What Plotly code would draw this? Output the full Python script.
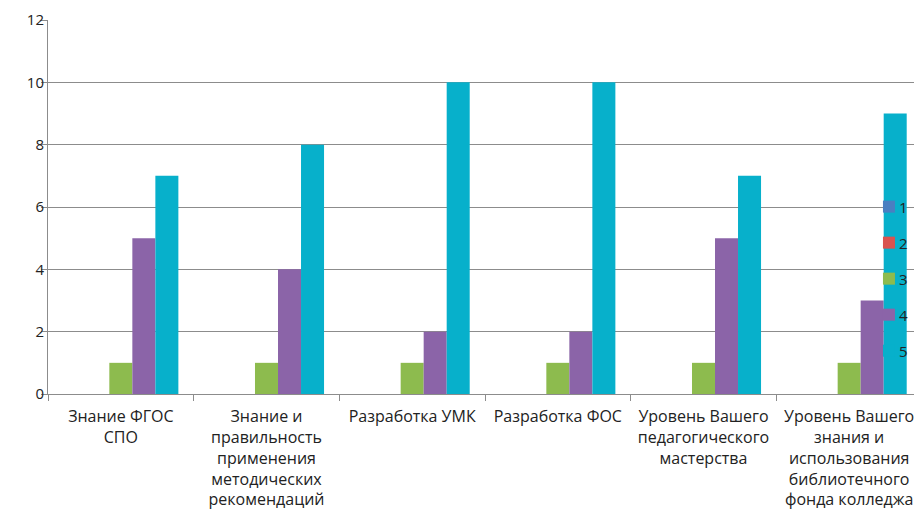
import plotly.graph_objects as go

categories = [
    "Знание ФГОС<br>СПО",
    "Знание и<br>правильность<br>применения<br>методических<br>рекомендаций",
    "Разработка УМК",
    "Разработка ФОС",
    "Уровень Вашего<br>педагогического<br>мастерства",
    "Уровень Вашего<br>знания и<br>использования<br>библиотечного<br>фонда колледжа",
]
series_names = ["1", "2", "3", "4", "5"]
s1 = [0, 0, 0, 0, 0, 0]
s2 = [0, 0, 0, 0, 0, 0]
s3 = [1, 1, 1, 1, 1, 1]
s4 = [5, 4, 2, 2, 5, 3]
s5 = [7, 8, 10, 10, 7, 9]
y_ticks = [0, 2, 4, 6, 8, 10, 12]

colors = ["#4A7FC1", "#D9534F", "#8DBB4E", "#8B64A8", "#07B0CB"]
values = [s1, s2, s3, s4, s5]

fig = go.Figure()
for name, vals, col in zip(series_names, values, colors):
    fig.add_trace(go.Bar(x=categories, y=vals, name=name, marker_color=col,
                         marker_line_width=0, showlegend=False))

# custom legend (marker square + label) overlaid on the right side
leg_x = 0.9622
leg_y0 = 0.501
leg_dy = 0.0963
for i, (name, col) in enumerate(zip(series_names, colors)):
    yc = leg_y0 - i * leg_dy
    fig.add_shape(type="rect", xref="paper", yref="paper",
                  xsizemode="pixel", ysizemode="pixel",
                  xanchor=leg_x, yanchor=yc, x0=-6, x1=6, y0=-6, y1=6,
                  fillcolor=col, line_width=0, layer="above")
    fig.add_annotation(text=name, xref="paper", yref="paper", x=leg_x, y=yc,
                       xanchor="left", yanchor="middle", xshift=8, showarrow=False,
                       font=dict(family="Open Sans", size=15, color="#222222"))

fig.update_layout(
    width=914, height=518,
    margin=dict(l=40, r=0, t=12, b=132),
    barmode="group", bargap=0.21, bargroupgap=0,
    plot_bgcolor="white", paper_bgcolor="white",
    font=dict(family="Open Sans", size=16, color="#222222"),
    showlegend=False,
)
fig.update_xaxes(type="category", showgrid=False, showline=True, linecolor="#8C8C8C",
                 linewidth=1, ticks="outside", tickson="boundaries", ticklen=6,
                 tickcolor="#8C8C8C", tickangle=0, tickfont=dict(size=16),
                 ticklabelstandoff=8, automargin=False)
fig.update_yaxes(range=[0, 12], tickvals=y_ticks, showgrid=True, gridcolor="#8C8C8C",
                 gridwidth=1, showline=True, linecolor="#8C8C8C", linewidth=1,
                 ticks="outside", ticklen=6, tickcolor="#8C8C8C",
                 tickfont=dict(size=15), ticklabelstandoff=-6,
                 zeroline=False, automargin=False)

fig.write_html("out.html")
